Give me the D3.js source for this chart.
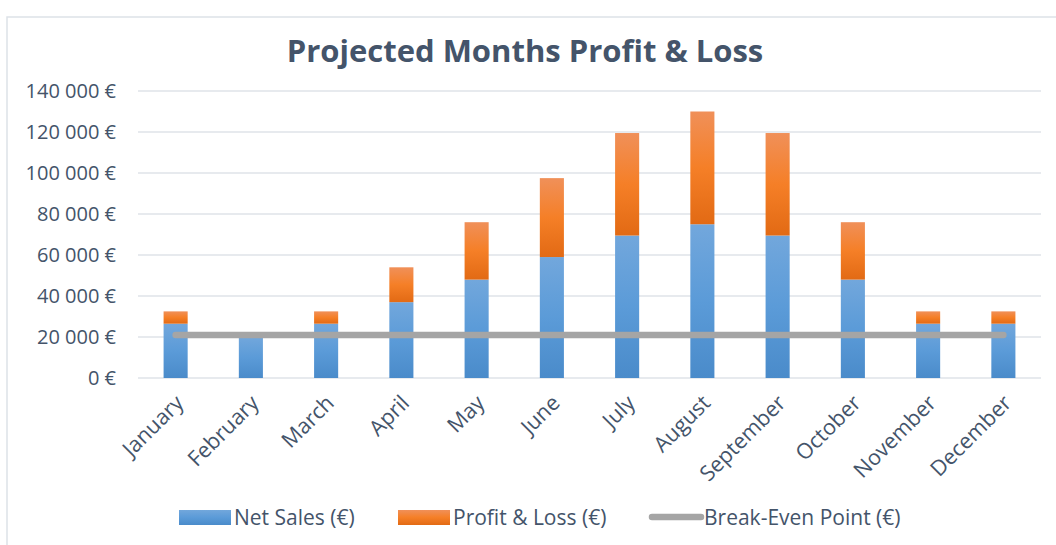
<!DOCTYPE html>
<html>
<head>
<meta charset="utf-8">
<script src="https://cdn.jsdelivr.net/npm/d3@7"></script>
<style>
  body { margin: 0; background: #fff; }
  text { font-family: "Open Sans", sans-serif; fill: #44546a; }
</style>
</head>
<body>
<div id="chart"></div>
<script>
// chart values
const months = ["January", "February", "March", "April", "May", "June",
    "July", "August", "September", "October", "November", "December"];
const netSales = [26500, 20000, 26500, 37000, 48000, 59000, 69500, 75000, 69500, 48000, 26500, 26500];
const profitLoss = [6000, 0, 6000, 17000, 28000, 38500, 50000, 55000, 50000, 28000, 6000, 6000];
const breakEven = [21000, 21000, 21000, 21000, 21000, 21000, 21000, 21000, 21000, 21000, 21000, 21000];
const yTicks = [0, 20000, 40000, 60000, 80000, 100000, 120000, 140000];
const legendLabels = ["Net Sales (€)", "Profit & Loss (€)", "Break-Even Point (€)"];

const width = 1056, height = 545;
const margin = { top: 91, right: 15, bottom: 167, left: 138 };

const svg = d3.select("#chart")
    .append("svg")
    .attr("width", width)
    .attr("height", height);

// gradients like the Excel fill
const defs = svg.append("defs");
function grad(id, stops) {
    const g = defs.append("linearGradient").attr("id", id)
        .attr("x1", 0).attr("y1", 0).attr("x2", 0).attr("y2", 1);
    stops.forEach(s => g.append("stop").attr("offset", s[0]).attr("stop-color", s[1]));
}
grad("gBlue", [[0, "#72a7dc"], [0.5, "#5b9bd8"], [1, "#4a8bca"]]);
grad("gOrange", [[0, "#f09059"], [0.5, "#f57f27"], [1, "#e26a14"]]);

// chart frame
svg.append("rect")
    .attr("x", 7).attr("y", 17)
    .attr("width", width + 10).attr("height", height)
    .attr("fill", "none")
    .attr("stroke", "#dde2e8")
    .attr("stroke-width", 1.5);

const x = d3.scaleBand()
    .domain(months)
    .range([margin.left, width - margin.right])
    .paddingInner(0.68)
    .paddingOuter(0.34);

const y = d3.scaleLinear()
    .domain([0, 140000])
    .range([height - margin.bottom, margin.top]);

// grid lines
svg.append("g")
    .selectAll("line")
    .data(yTicks)
    .enter()
    .append("line")
    .attr("x1", margin.left)
    .attr("x2", width - margin.right)
    .attr("y1", d => y(d))
    .attr("y2", d => y(d))
    .attr("stroke", "#dfe3e9")
    .attr("stroke-width", 1.5);

// y axis labels
const fmt = d => d3.format(",")(d).replace(/,/g, " ") + " €";
svg.append("g")
    .attr("transform", `translate(${margin.left - 22},0)`)
    .call(d3.axisLeft(y).tickValues(yTicks).tickFormat(fmt).tickSize(0).tickPadding(0))
    .call(g => g.select(".domain").remove())
    .selectAll("text")
    .style("font-size", "20px")
    .attr("fill", "#44546a");

// stacked bars
const stackData = months.map((m, i) => ({ month: m, net: netSales[i], pl: profitLoss[i] }));

svg.append("g")
    .selectAll("rect")
    .data(stackData)
    .enter()
    .append("rect")
    .attr("x", d => x(d.month))
    .attr("y", d => y(d.net))
    .attr("width", x.bandwidth())
    .attr("height", d => y(0) - y(d.net))
    .attr("fill", "url(#gBlue)");

svg.append("g")
    .selectAll("rect")
    .data(stackData.filter(d => d.pl > 0))
    .enter()
    .append("rect")
    .attr("x", d => x(d.month))
    .attr("y", d => y(d.net + d.pl))
    .attr("width", x.bandwidth())
    .attr("height", d => y(d.net) - y(d.net + d.pl))
    .attr("fill", "url(#gOrange)");

// break-even line
const line = d3.line()
    .x((d, i) => x(months[i]) + x.bandwidth() / 2)
    .y(d => y(d));

svg.append("path")
    .datum(breakEven)
    .attr("d", line)
    .attr("fill", "none")
    .attr("stroke", "#a5a5a5")
    .attr("stroke-width", 6.5)
    .attr("stroke-linecap", "round");

// x axis labels
svg.append("g")
    .selectAll("text")
    .data(months)
    .enter()
    .append("text")
    .attr("transform", d => `translate(${x(d) + x.bandwidth() / 2 + 4},${y(0) + 21}) rotate(-45)`)
    .attr("text-anchor", "end")
    .attr("dy", "0.35em")
    .style("font-size", "21.5px")
    .text(d => d);

// title
svg.append("text")
    .attr("x", 525)
    .attr("y", 62)
    .attr("text-anchor", "middle")
    .style("font-size", "31px")
    .style("font-weight", "bold")
    .text("Projected Months Profit & Loss");

// legend
const legendItems = [
    { label: legendLabels[0], x: 179, type: "rect", fill: "url(#gBlue)" },
    { label: legendLabels[1], x: 398, type: "rect", fill: "url(#gOrange)" },
    { label: legendLabels[2], x: 649, type: "line" }
];
const legend = svg.append("g");
legendItems.forEach(it => {
    if (it.type === "rect") {
        legend.append("rect")
            .attr("x", it.x).attr("y", 510)
            .attr("width", 52).attr("height", 15)
            .attr("fill", it.fill);
    } else {
        legend.append("line")
            .attr("x1", it.x + 3).attr("x2", it.x + 52)
            .attr("y1", 517).attr("y2", 517)
            .attr("stroke", "#a5a5a5")
            .attr("stroke-width", 6.5)
            .attr("stroke-linecap", "round");
    }
    legend.append("text")
        .attr("x", it.x + 55)
        .attr("y", 518)
        .attr("dy", "0.35em")
        .style("font-size", "21px")
        .text(it.label);
});
</script>
</body>
</html>
